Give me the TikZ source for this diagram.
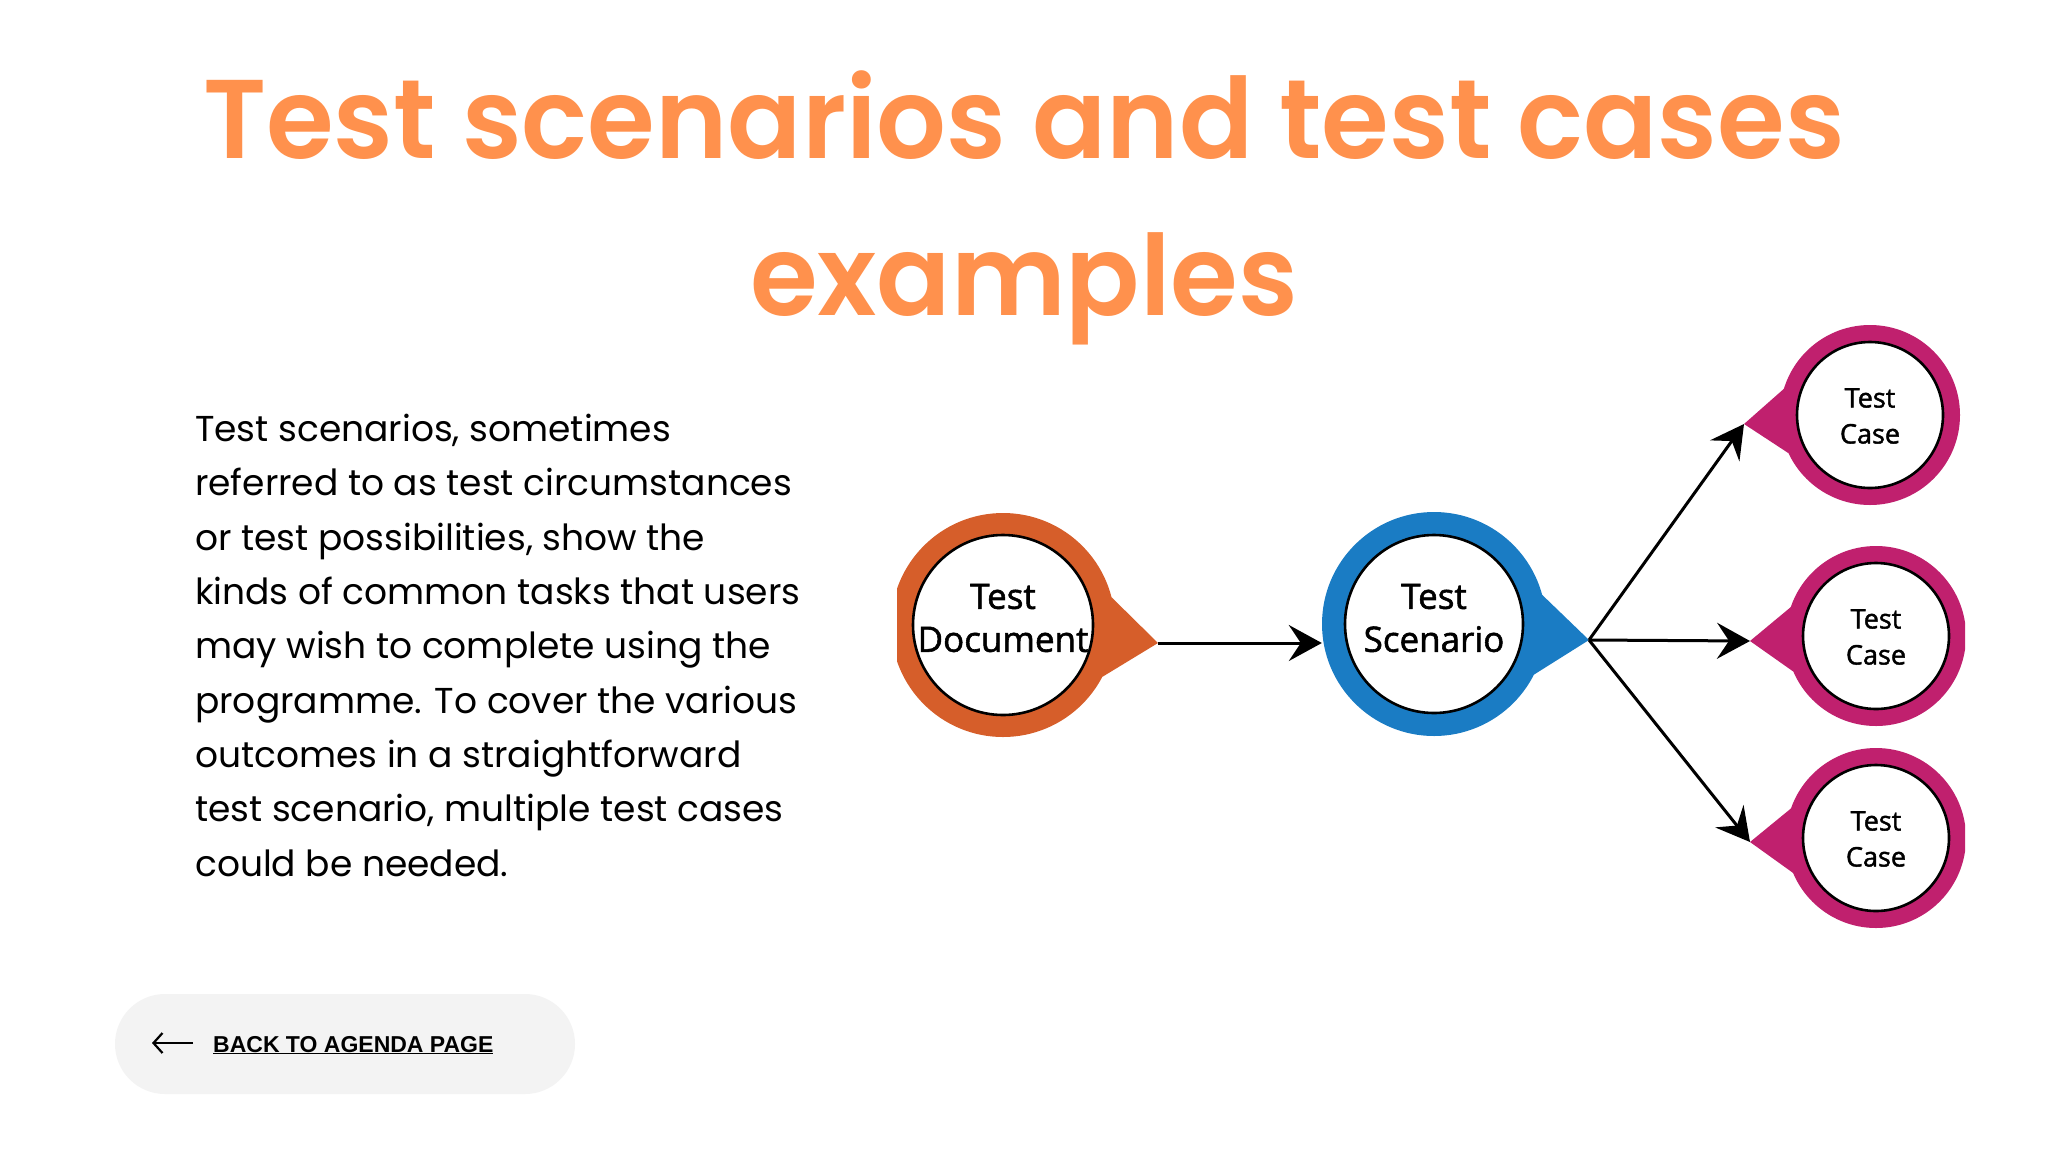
\documentclass[tikz,border=0pt]{standalone}
\usepackage{fontspec}
\usetikzlibrary{arrows.meta,calc}
\newfontfamily\titlefont{Poppins SemiBold}[FakeStretch=0.978]
\newfontfamily\bodyfont{Poppins}
\newfontfamily\diagfont{Open Sans}[FakeBold=1.6]
\newfontfamily\btnfont{Liberation Sans Bold}
\definecolor{titleorange}{RGB}{255,145,77}
\definecolor{docorange}{RGB}{214,94,42}
\definecolor{scenblue}{RGB}{26,124,196}
\definecolor{casemag}{RGB}{192,32,110}
\definecolor{btngray}{RGB}{243,243,243}
\newcommand\bubble[5]{%
  \coordinate (#1c) at #2;
  \coordinate (#1tip) at #3;
  \fill[#4] (#1tip) -- ($(#1c)!#5!21:(#1tip)$) -- ($(#1c)!#5!-21:(#1tip)$) -- cycle;
  \node[circle, fill=#4, minimum size=2*#5, inner sep=0pt] (#1ring) at (#1c) {};
}
\begin{document}
\begin{tikzpicture}[x=1pt,y=-1pt,
  titletext/.style={font=\titlefont\fontsize{112}{150}\selectfont, text=titleorange, inner sep=0pt},
  bodytext/.style={font=\bodyfont\fontsize{36}{54.3}\selectfont, align=left, inner sep=0pt},
  inner/.style={circle, draw=black, line width=2.6pt, fill=white, inner sep=0pt},
  bigtext/.style={font=\diagfont\fontsize{35}{43}\selectfont, align=center, text=black},
  smalltext/.style={font=\diagfont\fontsize{27}{36}\selectfont, align=center, text=black},
  conn/.style={line width=3pt, -{Stealth[length=33pt,width=36pt,inset=12pt]}},
  btntext/.style={font=\btnfont\fontsize{23}{28}\selectfont, inner sep=0pt}]
\useasboundingbox[fill=white] (0,0) rectangle (2048,1152);

\node[titletext, anchor=base] (title1) at (1024,158) {Test scenarios and test cases};
\node[titletext, anchor=base] (title2) at (1024,315) {examples};

\node[bodytext, anchor=north west] (body) at (195,414) {Test scenarios, sometimes\\
referred to as test circumstances\\
or test possibilities, show the\\
kinds of common tasks that users\\
may wish to complete using the\\
programme. To cover the various\\
outcomes in a straightforward\\
test scenario, multiple test cases\\
could be needed.};

\begin{scope}
\clip (897,0) rectangle (1965,1152);
\bubble{doc}{(1003,625)}{(1158,643)}{docorange}{112pt}
\node[inner, minimum size=180pt] (doc) at (docc) {};
\bubble{scen}{(1434,624)}{(1589,640)}{scenblue}{112pt}
\node[inner, minimum size=178pt] (scen) at (scenc) {};
\bubble{caseA}{(1870,415)}{(1744,424)}{casemag}{90pt}
\node[inner, minimum size=146pt] (caseA) at (caseAc) {};
\bubble{caseB}{(1876,636)}{(1750,641)}{casemag}{90pt}
\node[inner, minimum size=146pt] (caseB) at (caseBc) {};
\bubble{caseC}{(1876,838)}{(1750,842)}{casemag}{90pt}
\node[inner, minimum size=146pt] (caseC) at (caseCc) {};
\end{scope}
\node[bigtext] (doctext) at ([yshift=7pt]doc.center) {Test\\Document};
\node[bigtext] (scentext) at ([yshift=6pt]scen.center) {Test\\Scenario};
\node[smalltext] (caseAtext) at ([yshift=-1pt]caseA.center) {Test\\Case};
\node[smalltext] (caseBtext) at ([yshift=-1pt]caseB.center) {Test\\Case};
\node[smalltext] (caseCtext) at ([yshift=-1pt]caseC.center) {Test\\Case};

\draw[conn] (doctip) -- (doctip -| scenring.west);
\draw[conn] (scentip) -- (caseAtip);
\draw[conn] (scentip) -- (caseBtip);
\draw[conn] (scentip) -- (caseCtip);

\node[fill=btngray, rounded corners=50pt, minimum width=460pt, minimum height=100pt, inner sep=0pt] (btn) at (345,1044) {};
\coordinate (arrR) at (193,1043);
\coordinate (arrL) at (152,1043);
\draw[line width=2.2pt, -{Straight Barb[length=9pt,width=20pt]}] (arrR) -- (arrL);
\node[btntext, anchor=base west] (btntxt) at (213,1052) {\underline{BACK TO AGENDA PAGE}};
\end{tikzpicture}
\end{document}
